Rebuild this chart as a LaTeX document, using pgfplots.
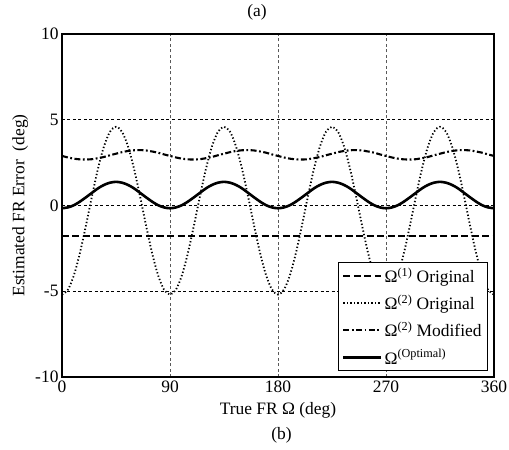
\documentclass[border=0pt]{standalone}
\usepackage{pgfplots}
\usepackage{pgfplotstable}
\pgfplotsset{compat=1.18}
\usepackage{fontspec}
\setmainfont{Liberation Serif}
\pgfplotstableread{
x D S M
0 -5.19 -0.16 2.89
5 -4.90 -0.11 2.80
10 -4.05 0.02 2.73
15 -2.75 0.23 2.69
20 -1.15 0.48 2.68
25 0.55 0.74 2.70
30 2.15 1.00 2.76
35 3.45 1.20 2.83
40 4.30 1.33 2.93
45 4.59 1.38 3.02
50 4.30 1.33 3.11
55 3.45 1.20 3.18
60 2.15 1.00 3.22
65 0.55 0.74 3.23
70 -1.15 0.48 3.21
75 -2.75 0.23 3.15
80 -4.05 0.02 3.08
85 -4.90 -0.11 2.98
90 -5.19 -0.16 2.89
95 -4.90 -0.11 2.80
100 -4.05 0.02 2.73
105 -2.75 0.23 2.69
110 -1.15 0.48 2.68
115 0.55 0.74 2.70
120 2.15 1.00 2.76
125 3.45 1.20 2.83
130 4.30 1.33 2.93
135 4.59 1.38 3.02
140 4.30 1.33 3.11
145 3.45 1.20 3.18
150 2.15 1.00 3.22
155 0.55 0.74 3.23
160 -1.15 0.48 3.21
165 -2.75 0.23 3.15
170 -4.05 0.02 3.08
175 -4.90 -0.11 2.98
180 -5.19 -0.16 2.89
185 -4.90 -0.11 2.80
190 -4.05 0.02 2.73
195 -2.75 0.23 2.69
200 -1.15 0.48 2.68
205 0.55 0.74 2.70
210 2.15 1.00 2.76
215 3.45 1.20 2.83
220 4.30 1.33 2.93
225 4.59 1.38 3.02
230 4.30 1.33 3.11
235 3.45 1.20 3.18
240 2.15 1.00 3.22
245 0.55 0.74 3.23
250 -1.15 0.48 3.21
255 -2.75 0.23 3.15
260 -4.05 0.02 3.08
265 -4.90 -0.11 2.98
270 -5.19 -0.16 2.89
275 -4.90 -0.11 2.80
280 -4.05 0.02 2.73
285 -2.75 0.23 2.69
290 -1.15 0.48 2.68
295 0.55 0.74 2.70
300 2.15 1.00 2.76
305 3.45 1.20 2.83
310 4.30 1.33 2.93
315 4.59 1.38 3.02
320 4.30 1.33 3.11
325 3.45 1.20 3.18
330 2.15 1.00 3.22
335 0.55 0.74 3.23
340 -1.15 0.48 3.21
345 -2.75 0.23 3.15
350 -4.05 0.02 3.08
355 -4.90 -0.11 2.98
360 -5.19 -0.16 2.89
}\datatable
\begin{document}
\begin{tikzpicture}
\useasboundingbox (-62bp,-73bp) rectangle (447bp,377bp);
\begin{axis}[
  scale only axis,
  width=432bp, height=343bp,
  xmin=0, xmax=360, ymin=-10, ymax=10,
  xtick={0,90,180,270,360},
  ytick={-10,-5,0,5,10},
  major tick length=0pt,
  /pgf/number format/assume math mode=true,
  tick label style={font=\fontsize{17.5}{20}\selectfont},
  label style={font=\fontsize{17.5}{20}\selectfont},
  axis line style={line width=1.1bp},
  grid=major,
  major x grid style={gray!70!black, line width=0.9bp, dash pattern=on 3bp off 2.5bp},
  major y grid style={black, line width=0.7bp, dash pattern=on 3bp off 2.5bp},
  xlabel={True FR Ω (deg)},
  ylabel={Estimated FR Error\ \ (deg)},
  xlabel style={at={(axis description cs:0.5,-0.0962)}, anchor=center},
  ylabel style={at={(axis description cs:-0.097,0.5)}, anchor=center},
  legend cell align=left,
  legend style={at={(axis description cs:0.986,0.0175)}, anchor=south east,
    draw=black, line width=0.8bp, fill=white,
    font=\fontsize{17.5}{20}\selectfont, row sep=7bp, inner xsep=4bp, inner ysep=3bp},
  legend image code/.code={\draw[#1] (0bp,0bp) -- (38bp,0bp);},
]
\addplot[black, line width=2.1bp, dash pattern=on 7bp off 3.5bp] coordinates {(0,-1.8) (360,-1.8)};
\addlegendentry{Ω\textsuperscript{(1)} Original}
\addplot[black, line width=1.8bp, dash pattern=on 1.3bp off 2.2bp, smooth] table[x=x,y=D] {\datatable};
\addlegendentry{Ω\textsuperscript{(2)} Original}
\addplot[black, line width=2.1bp, dash pattern=on 6bp off 2.5bp on 1.8bp off 2.5bp, smooth] table[x=x,y=M] {\datatable};
\addlegendentry{Ω\textsuperscript{(2)} Modified}
\addplot[black, line width=2.6bp, smooth] table[x=x,y=S] {\datatable};
\addlegendentry{Ω\textsuperscript{(Optimal)}}
\end{axis}
\node[font=\fontsize{17.5}{20}\selectfont] at (195bp,364.5bp) {(a)};
\node[font=\fontsize{17.5}{20}\selectfont] at (219.5bp,-58bp) {(b)};
\end{tikzpicture}
\end{document}
